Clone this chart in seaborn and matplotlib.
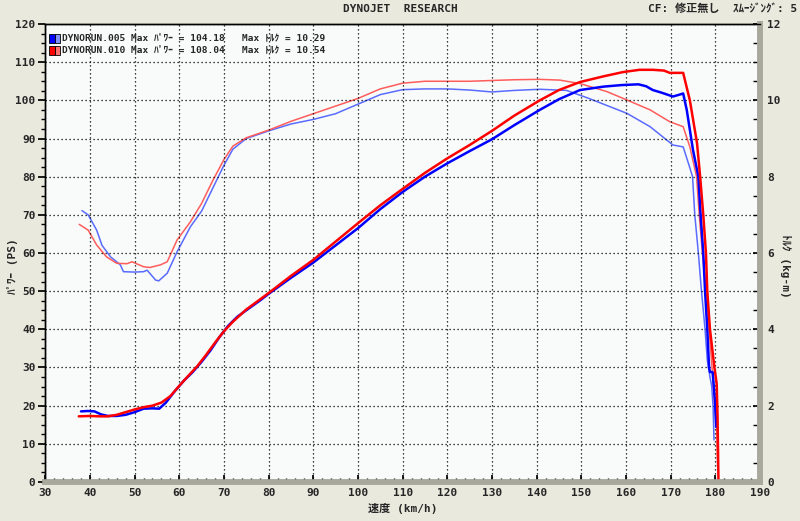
import matplotlib
matplotlib.use("Agg")
import matplotlib.pyplot as plt
from matplotlib.patches import Rectangle
from matplotlib.ticker import MultipleLocator
import seaborn as sns

# パワー曲線 (PS)
spd_pw_005 = [38.0, 39.5, 41.0, 42.5, 44.0, 46.0, 48.0, 50.0, 52.0, 54.0, 55.5, 57.0, 59.0, 61.0, 63.0,
              65.0, 67.0, 69.0, 71.0, 73.0, 75.0, 78.0, 80.0, 85.0, 90.0, 95.0, 100.0, 105.0, 110.0,
              115.0, 120.0, 125.0, 130.0, 135.0, 140.7, 145.0, 149.7, 155.0, 159.0, 162.8, 164.5,
              166.0, 168.0, 170.5, 172.0, 172.8, 173.6, 175.0, 176.2, 176.7, 177.3, 177.7, 178.2,
              178.6, 178.8, 179.4, 179.9, 180.2]
pw_005 = [18.5, 18.6, 18.5, 17.7, 17.3, 17.3, 17.6, 18.3, 19.2, 19.3, 19.2, 20.8, 23.8, 26.5, 28.8,
          31.5, 34.5, 38.0, 41.0, 43.3, 45.0, 47.5, 49.3, 53.5, 57.5, 62.0, 66.5, 71.5, 76.0,
          80.0, 83.5, 86.7, 89.8, 93.5, 97.5, 100.3, 102.7, 103.6, 104.0, 104.2, 103.7,
          102.7, 102.0, 101.0, 101.5, 101.8, 97.5, 87.0, 80.0, 70.0, 60.0, 50.0, 40.0,
          30.0, 28.8, 28.8, 21.4, 14.4]

spd_pw_010 = [37.5, 40.0, 42.0, 44.0, 46.0, 48.0, 50.0, 52.0, 54.0, 56.0, 58.0, 60.0, 62.0, 64.0,
              66.0, 68.0, 70.0, 72.0, 75.0, 80.0, 85.0, 90.0, 95.0, 100.0, 105.0, 110.0, 115.0,
              120.0, 125.0, 130.0, 135.0, 140.7, 145.0, 149.7, 155.0, 159.3, 163.0, 166.0, 168.5,
              169.8, 172.8, 174.3, 175.9, 176.6, 177.3, 177.9, 178.2, 178.8, 179.8, 180.3, 180.5,
              180.7]
pw_010 = [17.2, 17.3, 17.2, 17.2, 17.6, 18.3, 19.0, 19.6, 20.0, 20.8, 22.5, 25.2, 27.8, 30.3,
          33.3, 36.5, 39.5, 42.0, 45.2, 49.5, 54.0, 58.2, 63.0, 67.8, 72.5, 76.8, 81.0,
          84.8, 88.3, 92.0, 96.0, 100.0, 102.7, 104.8, 106.3, 107.4, 108.0, 108.0, 107.8,
          107.2, 107.2, 100.0, 88.8, 80.0, 70.0, 60.0, 50.0, 40.0, 30.0, 25.8, 17.0,
          0.0]

# トルク曲線 (kg-m)
spd_tq_005 = [38.2, 39.6, 41.5, 42.7, 44.6, 46.8, 47.5, 50.0, 52.0, 52.8, 54.7, 55.4, 57.3, 59.5,
              62.5, 65.0, 67.5, 70.0, 72.0, 75.0, 80.0, 85.0, 90.0, 95.0, 100.0, 105.0, 110.0,
              115.0, 120.0, 125.0, 130.0, 135.0, 140.7, 146.7, 151.7, 160.2, 165.4, 170.5, 172.8,
              174.3, 174.9, 175.4, 176.2, 176.9, 177.7, 178.2, 178.8, 179.2, 179.5, 179.7]
tq_005 = [7.11, 7.00, 6.60, 6.20, 5.90, 5.69, 5.51, 5.50, 5.51, 5.55, 5.29, 5.27, 5.47, 6.03,
          6.69, 7.10, 7.70, 8.30, 8.72, 9.00, 9.20, 9.38, 9.50, 9.65, 9.90, 10.15, 10.28,
          10.30, 10.30, 10.27, 10.22, 10.26, 10.29, 10.26, 10.05, 9.66, 9.31, 8.83, 8.78,
          8.23, 8.00, 7.00, 6.00, 5.00, 4.00, 3.20, 2.75, 2.50, 1.97, 1.10]

spd_tq_010 = [37.6, 39.6, 41.5, 43.7, 46.0, 48.3, 49.4, 52.0, 53.4, 55.8, 57.3, 59.5, 62.5, 65.0,
              67.5, 70.0, 72.0, 75.0, 80.0, 85.0, 90.0, 95.0, 100.0, 105.0, 110.0, 115.0, 120.0,
              125.0, 130.0, 135.0, 140.7, 145.2, 149.7, 155.7, 160.2, 165.4, 169.8, 172.8, 174.3,
              175.8, 176.4, 177.1, 178.0, 178.6, 179.2, 179.5, 179.9, 180.3, 180.5]
tq_010 = [6.75, 6.60, 6.21, 5.90, 5.73, 5.72, 5.77, 5.64, 5.62, 5.69, 5.77, 6.34, 6.82, 7.30,
          7.90, 8.45, 8.80, 9.02, 9.22, 9.45, 9.65, 9.85, 10.05, 10.30, 10.45, 10.50, 10.50,
          10.50, 10.52, 10.54, 10.55, 10.53, 10.44, 10.23, 10.01, 9.75, 9.44, 9.31, 8.78,
          8.00, 7.00, 6.00, 5.00, 4.00, 3.10, 2.60, 1.97, 1.44, 0.40]

legend_lines = ["DYNORUN.005 Max ﾊﾟﾜｰ = 104.18   Max ﾄﾙｸ = 10.29",
                "DYNORUN.010 Max ﾊﾟﾜｰ = 108.04   Max ﾄﾙｸ = 10.54"]

sns.set_theme(style="white")
plt.rcParams['font.family'] = ['DejaVu Sans Mono', 'Noto Sans CJK JP']
plt.rcParams['font.weight'] = 'bold'

fig_bg = '#EAE9DD'
plot_bg = '#F8FBF9'
spine_gray = '#A9A89C'

fig = plt.figure(figsize=(8, 5.21), dpi=100, facecolor=fig_bg)
ax = fig.add_axes([0.0566, 0.0749, 0.8934, 0.879])
ax2 = ax.twinx()

# パワー軸を手前に、背景はトルク軸側で描く
ax2.set_zorder(1)
ax.set_zorder(2)
ax.patch.set_visible(False)
ax2.patch.set_visible(True)
ax2.set_facecolor(plot_bg)

# トルク (細線)
sns.lineplot(x=spd_tq_005, y=tq_005, ax=ax2, color='#5A6BFF', lw=1.1, sort=False, estimator=None)
sns.lineplot(x=spd_tq_010, y=tq_010, ax=ax2, color='#FF5C5C', lw=1.1, sort=False, estimator=None)
# パワー (太線)
sns.lineplot(x=spd_pw_005, y=pw_005, ax=ax, color='#0000FF', lw=1.8, sort=False, estimator=None)
sns.lineplot(x=spd_pw_010, y=pw_010, ax=ax, color='#FF0000', lw=1.8, sort=False, estimator=None)

ax.set_xlim(30, 190)
ax.set_ylim(0, 120)
ax2.set_ylim(0, 12)

ax.xaxis.set_major_locator(MultipleLocator(10))
ax.xaxis.set_minor_locator(MultipleLocator(2))
ax.yaxis.set_major_locator(MultipleLocator(10))
ax.yaxis.set_minor_locator(MultipleLocator(2.5))
ax2.yaxis.set_major_locator(MultipleLocator(2))
ax2.yaxis.set_minor_locator(MultipleLocator(0.5))

ax.grid(True, which='major', color='black', linestyle=(0, (1, 2.2)), linewidth=0.9)
ax2.grid(False)

ax.tick_params(axis='y', which='both', direction='out', left=True, color='black', labelsize=8, pad=2)
ax.tick_params(axis='y', which='major', length=5)
ax.tick_params(axis='y', which='minor', length=3)
ax.tick_params(axis='x', which='both', direction='in', bottom=True, color='black', labelsize=8, pad=4)
ax.tick_params(axis='x', which='major', length=5)
ax.tick_params(axis='x', which='minor', length=3)
ax2.tick_params(axis='y', which='both', direction='in', right=True, color='black', labelsize=8, pad=5)
ax2.tick_params(axis='y', which='major', length=5)
ax2.tick_params(axis='y', which='minor', length=5)

for a in (ax, ax2):
    a.spines['left'].set_color('black')
    a.spines['left'].set_linewidth(1.0)
    a.spines['top'].set_color('black')
    a.spines['top'].set_linewidth(1.0)
    a.spines['right'].set_color(spine_gray)
    a.spines['right'].set_linewidth(4)
    a.spines['bottom'].set_color(spine_gray)
    a.spines['bottom'].set_linewidth(4)

fig.text(0.016, 0.49, 'ﾊﾟﾜｰ (PS)', rotation=90, ha='center', va='center', fontsize=8,
         fontweight='bold')
fig.text(0.982, 0.49, 'ﾄﾙｸ (kg-m)', rotation=270, ha='center', va='center', fontsize=8,
         fontweight='bold')
ax.set_xlabel('速度 (km/h)', fontsize=8, fontweight='bold', labelpad=4)

# 凡例
colors = [('#0000FF', '#8090FF'), ('#FF0000', '#FF7070')]
for i, (txt, (c1, c2)) in enumerate(zip(legend_lines, colors)):
    y0 = 0.979 - i * 0.026
    ax.add_patch(Rectangle((0.005, y0 - 0.02), 0.008, 0.02, transform=ax.transAxes,
                           facecolor=c1, edgecolor='black', lw=0.6, clip_on=False, zorder=5))
    ax.add_patch(Rectangle((0.013, y0 - 0.02), 0.008, 0.02, transform=ax.transAxes,
                           facecolor=c2, edgecolor='black', lw=0.6, clip_on=False, zorder=5))
    ax.text(0.024, y0 - 0.01, txt, transform=ax.transAxes, fontsize=6.8, va='center',
            ha='left', zorder=6)

fig.text(0.5, 0.983, 'DYNOJET  RESEARCH', ha='center', va='center', fontsize=8, fontweight='bold')
fig.text(0.996, 0.983, 'CF: 修正無し  ｽﾑｰｼﾞﾝｸﾞ: 5', ha='right', va='center', fontsize=8,
         fontweight='bold')

fig.savefig('out.png', dpi=100, facecolor=fig_bg)
